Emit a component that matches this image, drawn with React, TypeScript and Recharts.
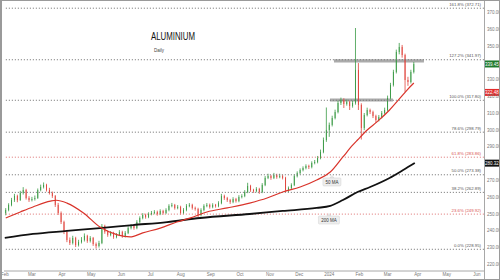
import React from "react";
import {
  ComposedChart,
  Bar,
  Line,
  XAxis,
  YAxis,
  ReferenceLine,
  ReferenceArea,
  ReferenceDot,
} from "recharts";

// t = days since 1 Jan 2023, then open / high / low / close
const candles: [number, number, number, number, number][] = [
  [32, 250.5, 253.5, 249.2, 252.4], [35, 252.4, 256.4, 251.6, 255.4], [38, 255.4, 259.6, 254.6, 258.3],
  [41, 258.3, 262.0, 257.2, 260.7], [44, 260.7, 261.5, 257.0, 258.3], [47, 258.3, 263.8, 257.8, 262.5],
  [50, 262.5, 266.0, 261.6, 264.3], [53, 264.3, 265.0, 258.6, 259.5], [56, 259.5, 260.6, 257.2, 258.3],
  [59, 258.3, 260.2, 257.5, 258.9], [62, 258.9, 261.0, 258.0, 259.5], [65, 259.5, 265.2, 259.0, 264.3],
  [68, 264.3, 267.5, 263.5, 266.1], [71, 266.1, 268.8, 265.2, 267.3], [74, 267.3, 268.0, 263.4, 264.3],
  [77, 264.3, 265.6, 261.6, 262.5], [80, 262.5, 263.4, 259.6, 260.7], [83, 260.7, 261.3, 254.2, 255.4],
  [86, 255.4, 256.6, 249.4, 250.6], [89, 250.6, 251.5, 244.0, 245.2], [92, 245.2, 246.0, 238.0, 239.3],
  [95, 239.3, 240.5, 233.2, 234.5], [98, 234.5, 236.0, 231.5, 232.7], [101, 232.7, 237.0, 231.8, 235.7],
  [104, 235.7, 236.4, 230.3, 231.5], [107, 231.5, 234.6, 230.6, 233.3], [110, 233.3, 236.2, 232.4, 234.5],
  [113, 234.5, 238.4, 233.6, 236.9], [116, 236.9, 237.6, 232.8, 233.9], [119, 233.9, 236.8, 233.0, 235.7],
  [122, 235.7, 236.3, 231.0, 232.1], [125, 232.1, 233.0, 229.4, 230.9], [128, 230.9, 234.0, 230.0, 232.7],
  [131, 232.7, 244.0, 232.0, 242.8], [134, 242.8, 243.6, 238.2, 239.3], [137, 239.3, 240.3, 236.4, 237.5],
  [140, 237.5, 239.8, 236.7, 238.7], [143, 238.7, 239.4, 235.2, 236.3], [146, 236.3, 238.6, 235.5, 237.5],
  [149, 237.5, 240.4, 236.8, 239.3], [152, 239.3, 240.0, 235.8, 236.9], [155, 236.9, 239.8, 236.0, 238.7],
  [158, 238.7, 242.6, 238.0, 241.6], [161, 241.6, 244.0, 240.8, 242.8], [164, 242.8, 243.5, 240.6, 241.6],
  [167, 241.6, 246.3, 240.9, 245.2], [170, 245.2, 248.6, 244.4, 247.6], [173, 247.6, 250.5, 246.8, 249.4],
  [176, 249.4, 250.2, 247.2, 248.2], [179, 248.2, 251.0, 247.5, 250.0], [182, 250.0, 251.8, 249.2, 250.6],
  [185, 250.6, 252.3, 249.8, 251.2], [188, 251.2, 252.0, 249.0, 250.0], [191, 250.0, 252.8, 249.3, 251.8],
  [194, 251.8, 252.5, 249.6, 250.6], [197, 250.6, 253.4, 249.9, 252.4], [200, 252.4, 255.8, 251.6, 254.8],
  [203, 254.8, 256.6, 254.0, 255.4], [206, 255.4, 256.0, 252.6, 253.6], [209, 253.6, 255.3, 252.8, 254.2],
  [212, 254.2, 254.9, 249.6, 250.6], [215, 250.6, 253.5, 249.8, 252.4], [218, 252.4, 255.9, 251.6, 254.8],
  [221, 254.8, 256.5, 254.0, 255.4], [224, 255.4, 256.1, 252.6, 253.6], [227, 253.6, 254.4, 252.0, 253.0],
  [230, 253.0, 253.7, 248.2, 249.4], [233, 249.4, 253.4, 248.6, 252.4], [236, 252.4, 255.8, 251.6, 254.8],
  [239, 254.8, 256.5, 254.0, 255.4], [242, 255.4, 256.2, 253.2, 254.2], [245, 254.2, 256.4, 253.4, 255.4],
  [248, 255.4, 256.0, 253.8, 254.8], [251, 254.8, 257.6, 254.0, 256.5], [254, 256.5, 262.0, 255.8, 260.7],
  [257, 260.7, 261.5, 258.4, 259.5], [260, 259.5, 260.2, 257.2, 258.3], [263, 258.3, 259.0, 256.0, 257.1],
  [266, 257.1, 260.0, 256.4, 258.9], [269, 258.9, 259.6, 256.8, 257.7], [272, 257.7, 261.2, 257.0, 260.1],
  [275, 260.1, 261.8, 259.3, 260.7], [278, 260.7, 264.2, 260.0, 263.1], [281, 263.1, 268.6, 262.4, 266.7],
  [284, 266.7, 267.4, 263.2, 264.3], [287, 264.3, 265.0, 262.6, 263.7], [290, 263.7, 266.0, 262.9, 264.9],
  [293, 264.9, 265.6, 262.0, 263.1], [296, 263.1, 268.4, 262.4, 267.3], [299, 267.3, 272.6, 266.6, 271.5],
  [302, 271.5, 274.0, 270.8, 272.6], [305, 272.6, 273.3, 270.4, 271.5], [308, 271.5, 274.5, 270.8, 273.2],
  [311, 273.2, 274.0, 271.0, 272.0], [314, 272.0, 274.0, 271.3, 272.6], [317, 272.6, 273.4, 270.6, 271.5],
  [320, 271.5, 272.2, 263.0, 264.3], [323, 264.3, 266.4, 263.0, 265.5], [326, 265.5, 268.3, 264.8, 267.3],
  [329, 267.3, 273.6, 266.6, 272.6], [332, 272.6, 275.4, 271.8, 274.4], [335, 274.4, 277.2, 273.6, 276.2],
  [338, 276.2, 278.4, 275.4, 277.4], [341, 277.4, 279.6, 276.6, 278.6], [344, 278.6, 279.4, 276.8, 278.0],
  [347, 278.0, 281.4, 277.2, 280.4], [350, 280.4, 282.2, 279.6, 281.0], [353, 281.0, 284.6, 280.2, 283.4],
  [356, 283.4, 288.4, 282.6, 287.0], [359, 287.0, 295.6, 286.2, 294.1], [362, 294.1, 313.5, 293.0, 300.1],
  [365, 300.1, 304.5, 296.0, 303.1], [368, 303.1, 308.6, 302.2, 307.2], [371, 307.2, 312.2, 306.4, 310.8],
  [374, 310.8, 317.6, 310.0, 316.2], [377, 316.2, 319.4, 315.0, 318.0], [380, 318.0, 319.0, 313.2, 315.6],
  [383, 315.6, 318.2, 314.6, 316.8], [386, 316.8, 317.6, 312.0, 314.4], [389, 314.4, 317.6, 313.4, 316.2],
  [392, 316.2, 360.9, 315.2, 335.9], [395, 335.9, 340.0, 312.0, 315.0], [398, 315.0, 316.0, 294.4, 301.3],
  [401, 301.3, 310.2, 300.0, 309.0], [404, 309.0, 313.4, 308.2, 312.0], [407, 312.0, 312.8, 309.6, 310.8],
  [410, 310.8, 311.6, 307.2, 308.4], [413, 308.4, 309.2, 304.4, 306.0], [416, 306.0, 309.0, 305.2, 307.8],
  [419, 307.8, 311.4, 307.0, 310.2], [422, 310.2, 313.4, 309.4, 312.0], [425, 312.0, 320.6, 311.2, 319.2],
  [428, 319.2, 328.2, 318.4, 326.9], [431, 326.9, 336.0, 326.0, 334.7], [434, 334.7, 348.0, 333.8, 346.6],
  [437, 346.6, 352.0, 345.2, 349.6], [440, 349.6, 350.8, 343.2, 344.8], [443, 344.8, 345.6, 322.8, 329.9],
  [446, 329.9, 331.8, 326.4, 328.7], [449, 328.7, 336.0, 327.8, 334.7], [452, 334.7, 340.6, 333.8, 339.4],
];

// moving averages [t, value]
const ma50: [number, number][] = [
  [32, 247.6], [47, 251.2], [60, 254.2], [78, 257.7], [84, 258.2], [95, 256.5], [112, 250.6],
  [129, 242.2], [147, 237.5], [160, 236.3], [173, 238.7], [191, 241.6], [208, 245.2], [225, 248.2],
  [239, 251.2], [260, 253.6], [283, 256.5], [301, 259.5], [317, 263.1], [335, 266.1], [352, 270.3],
  [366, 275.0], [379, 284.0], [389, 291.0], [394, 294.1], [404, 300.1], [414, 304.9], [427, 312.0],
  [438, 319.2], [445, 323.9], [452, 328.1],
];
const ma200: [number, number][] = [
  [31, 235.7], [60, 238.1], [95, 239.9], [129, 241.6], [163, 243.4], [198, 245.2], [232, 247.6],
  [283, 250.0], [317, 251.8], [352, 253.6], [366, 254.8], [379, 258.3], [394, 263.1], [407, 266.1],
  [427, 271.5], [441, 276.2], [453, 280.4],
];

const fibPcts = ["0.0%", "23.6%", "38.2%", "50.0%", "61.8%", "78.6%", "100.0%", "127.2%", "161.8%"];
const fibValues = [228.95, 249.92, 262.89, 273.38, 283.86, 298.79, 317.8, 341.97, 372.71];
const fibRed = ["23.6%", "61.8%"];

const priceTicks = [220, 230, 240, 250, 260, 270, 280, 290, 300, 310, 320, 330, 340, 350, 360, 370];
const monthDays = [31, 59, 90, 120, 151, 181, 212, 243, 273, 304, 334, 365, 396, 425, 456, 486, 517];
const monthLabels = ["Feb", "Mar", "Apr", "May", "Jun", "Jul", "Aug", "Sep", "Oct", "Nov", "Dec", "2024", "Feb", "Mar", "Apr", "May", "Jun"];

// resistance zones [t1, t2, low, high]
const zones: [number, number, number, number][] = [
  [369.8, 462.4, 340.4, 342.2],
  [365.7, 430.5, 317.0, 318.9],
];

const lastPrice = 339.45;
const ma50Last = 322.48;
const ma200Last = 280.32;
const badgeValues = [lastPrice, ma50Last, ma200Last];

const GREEN = "#3a9a45";
const RED = "#e0433b";

const rows = candles.map(([t, o, h, l, c]) => ({ t, o, h, l, c }));
const ma50Rows = ma50.map(([t, v]) => ({ t, v }));
const ma200Rows = ma200.map(([t, v]) => ({ t, v }));

function Candle(props: any) {
  const { x, y, width, height, payload } = props;
  if (!payload || height == null) return null;
  const { o, h, l, c } = payload;
  const k = h === l ? 0 : height / (h - l);
  const yO = y + (h - o) * k;
  const yC = y + (h - c) * k;
  const color = c >= o ? GREEN : RED;
  const cx = x + width / 2;
  const top = Math.min(yO, yC);
  const bh = Math.max(Math.abs(yC - yO), 0.8);
  return (
    <g>
      <line x1={cx} x2={cx} y1={y} y2={y + height} stroke={color} strokeWidth={0.8} />
      <rect x={x} y={top} width={width} height={bh} fill={color} />
    </g>
  );
}

// price labels hidden under the coloured value badges
function PriceTick(props: any) {
  const { x, y, payload } = props;
  const v = payload.value;
  if (badgeValues.some((b) => Math.abs(b - v) < 1.5)) return null;
  return (
    <text x={x} y={y} dy="0.355em" textAnchor="start" fontSize={4.5} fill="#777">
      {v.toFixed(2)}
    </text>
  );
}

const badge = (value: number, fill: string) => (props: any) => {
  const vb = props.viewBox;
  if (!vb) return null;
  const x = vb.x + vb.width + 1;
  return (
    <g>
      <rect x={x} y={vb.y - 3.5} width={14} height={7} fill={fill} />
      <text x={x + 7} y={vb.y + 1.6} textAnchor="middle" fontSize={4.5} fill="#fff">
        {value.toFixed(2)}
      </text>
    </g>
  );
};

const callout = (text: string, w: number) => (props: any) => {
  const { cx, cy } = props;
  return (
    <g>
      <path d={`M${cx - 2},${cy - 4} L${cx},${cy - 6.5} L${cx + 2},${cy - 4} Z`} fill="#eeeeee" stroke="#d0d0d0" strokeWidth={0.5} />
      <rect x={cx - w / 2} y={cy - 4} width={w} height={8} rx={1} fill="#eeeeee" stroke="#d0d0d0" strokeWidth={0.5} />
      <text x={cx} y={cy + 1.6} textAnchor="middle" fontSize={4.5} fill="#333">
        {text}
      </text>
    </g>
  );
};

export default function App() {
  return (
    <div style={{ position: "relative", width: 500, height: 280, background: "#fff", fontFamily: "'Liberation Sans', Arial, sans-serif" }}>
      <style>{`body{margin:0}`}</style>
      <ComposedChart width={500} height={280} data={rows} margin={{ top: 1, right: 0, bottom: 0, left: 4 }}>
        <XAxis
          type="number"
          dataKey="t"
          domain={[30.2, 524.2]}
          allowDataOverflow
          ticks={monthDays}
          interval={0}
          tickFormatter={(v) => monthLabels[monthDays.indexOf(v)] ?? ""}
          height={9}
          tickSize={0}
          tickMargin={2}
          axisLine={{ stroke: "#a8a8a8" }}
          tick={{ fontSize: 4.5, fill: "#777" }}
        />
        <YAxis
          orientation="right"
          domain={[216, 377]}
          allowDataOverflow
          ticks={priceTicks}
          interval={0}
          width={16}
          tickSize={0}
          tickMargin={3}
          axisLine={false}
          tick={<PriceTick />}
        />
        {fibValues.map((v, i) => {
          const col = fibRed.includes(fibPcts[i]) ? "#e07a7a" : "#777";
          return (
            <ReferenceLine
              key={fibPcts[i]}
              y={v}
              stroke={col}
              strokeDasharray="1.2 1.8"
              strokeWidth={0.9}
              label={(p: any) => (
                <text x={p.viewBox.x + p.viewBox.width - 3} y={p.viewBox.y - 2.5} textAnchor="end" fontSize={4.3} fill={col === "#777" ? "#555" : "#d9534f"}>
                  {`${fibPcts[i]} (${v.toFixed(2)})`}
                </text>
              )}
            />
          );
        })}
        <Bar dataKey={(d: any) => [d.l, d.h]} barSize={2} shape={Candle} isAnimationActive={false} />
        {zones.map(([t1, t2, lo, hi], i) => (
          <ReferenceArea key={i} x1={t1} x2={t2} y1={lo} y2={hi} fill="#8f8f8f" fillOpacity={0.75} stroke="none" />
        ))}
        <Line data={ma200Rows} dataKey="v" type="monotone" stroke="#111" strokeWidth={1.8} dot={false} isAnimationActive={false} />
        <Line data={ma50Rows} dataKey="v" type="monotone" stroke="#d9342b" strokeWidth={1.2} dot={false} isAnimationActive={false} />
        <ReferenceDot x={367.7} y={269.1} r={0} shape={callout("50 MA", 18)} ifOverflow="visible" />
        <ReferenceDot x={364.6} y={246.4} r={0} shape={callout("200 MA", 21)} ifOverflow="visible" />
        <ReferenceLine y={lastPrice} stroke="none" label={badge(lastPrice, "#1f7a2e")} />
        <ReferenceLine y={ma50Last} stroke="none" label={badge(ma50Last, "#e32b2b")} />
        <ReferenceLine y={ma200Last} stroke="none" label={badge(ma200Last, "#111")} />
      </ComposedChart>
      <svg width={500} height={280} style={{ position: "absolute", left: 0, top: 0, pointerEvents: "none" }}>
        <text x={151} y={40} fontSize={11} textLength={44} lengthAdjust="spacingAndGlyphs" fill="#111">
          ALUMINIUM
        </text>
        <text x={154} y={52} fontSize={4.5} fill="#444">
          Daily
        </text>
        <line x1={484.5} y1={0} x2={484.5} y2={280} stroke="#a8a8a8" strokeWidth={1} />
        <rect x={1} y={0.5} width={498.5} height={279} fill="none" stroke="#9a9a9a" strokeWidth={1} />
        <line x1={1} y1={0} x2={1} y2={280} stroke="#9a9a9a" strokeWidth={2} />
      </svg>
    </div>
  );
}
